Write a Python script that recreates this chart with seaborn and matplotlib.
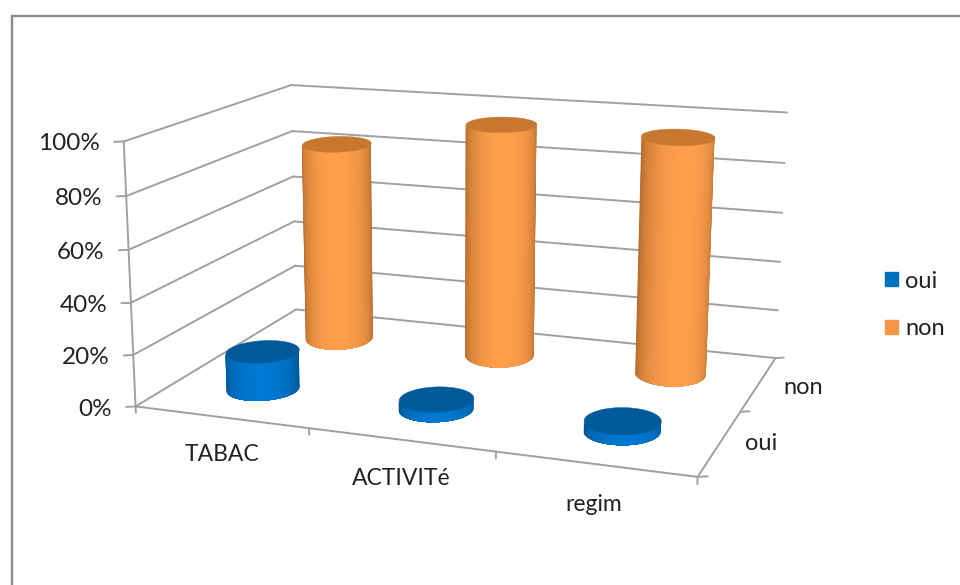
import numpy as np
import matplotlib
matplotlib.use("Agg")
import matplotlib.pyplot as plt
from matplotlib.colors import to_rgb
from matplotlib.lines import Line2D
from matplotlib.patches import Patch
from mpl_toolkits.mplot3d import proj3d
from mpl_toolkits.mplot3d.art3d import Poly3DCollection
import seaborn as sns

categories = ["TABAC", "ACTIVITé", "regim"]
series_names = ["oui", "non"]
oui_values = [0.15, 0.04, 0.04]
non_values = [0.825, 0.947, 0.94]
percent_ticks = [0.0, 0.2, 0.4, 0.6, 0.8, 1.0]

W, H = 960, 585
sns.set_theme(style="white")
plt.rcParams["font.family"] = ["Lato", "DejaVu Sans"]
TEXT = "#222222"
GRID = "#a0a0a0"

fig = plt.figure(figsize=(W / 100, H / 100), dpi=100, facecolor="white")
# mplot3d keeps a square panel, so it overhangs the figure top and bottom
ax = fig.add_axes([0, -(W - H) / 2 / H, 1, W / H], projection="3d", proj_type="ortho",
                  computed_zorder=False)
ax.set_xticks([])
ax.set_yticks([])
ax.set_zticks([])
ax.set_axis_off()
ax.viewLim.intervalx = (0, W)
ax.viewLim.intervaly = (-(W - H) / 2, H + (W - H) / 2)

# Camera: perspective matrix solved from where the plot box lands on the canvas
box_points = [
    ((0, 0, 0), (136, 406)), ((0, 0, 1), (124, 141)), ((0, 2, 1), (291, 85)),
    ((3, 2, 1), (787, 113)), ((3, 2, 0), (775, 358)), ((3, 0, 0), (697, 476)),
    ((1, 0, 0), (309, 429)), ((2, 0, 0), (495, 453)), ((3, 1, 0), (742, 411)),
]
rows = []
for (x, y, z), (px, py) in box_points:
    v = H - py
    rows.append([x, y, z, 1, 0, 0, 0, 0, -px * x, -px * y, -px * z, -px])
    rows.append([0, 0, 0, 0, x, y, z, 1, -v * x, -v * y, -v * z, -v])
solution = np.linalg.svd(np.array(rows, float))[2][-1].reshape(3, 4)
solution = solution / solution[2, 3]
camera = np.vstack([solution[0], solution[1], [0.1, 1.0, 0.05, 0.0], solution[2]])
ax.get_proj = lambda: camera

# Floor-plane steps worth about ten canvas pixels, horizontally and vertically
h_step = np.array([0.0425, 0.0235])
v_step = np.array([-0.083, 0.189])


def line(p, q, **kw):
    ax.plot([p[0], q[0]], [p[1], q[1]], [p[2], q[2]], color=GRID, lw=1.4, zorder=1, **kw)


def label(x, y, z, text, ha="center", size=17):
    """Place a flat figure text at the canvas position of a point in the plot box."""
    px, py, _ = proj3d.proj_transform(x, y, z, camera)
    fig.text(px / W, py / H, text, ha=ha, va="center", fontsize=size, color=TEXT)


# Walls, floor and axes
for z in percent_ticks:
    line((0, 0, z), (0, 2, z))
    line((0, 2, z), (3, 2, z))
    line((0, 0, z), (-h_step[0], -h_step[1], z))
    label(-2.5 * h_step[0], -2.5 * h_step[1], z - 0.006, f"{z:.0%}", ha="right", size=17.5)
line((0, 0, 0), (0, 0, 1))
line((0, 0, 0), (3, 0, 0))
line((3, 0, 0), (3, 2, 0))
for i in range(4):
    line((i, 0, 0), (i, 0, -0.025))
for j in range(3):
    line((3, j, 0), (3 + h_step[0], j + h_step[1], 0))
for i, name in enumerate(categories):
    label(i + 0.5, 0, -0.145, name, size=16.5)
for j, name in enumerate(series_names):
    shift = 4.4 + 0.8 * j
    label(3 + shift * h_step[0], j + 0.5 + shift * h_step[1], -0.012 * (1 + j), name)


def cylinder(cx, cy, height, edge, mid, top, half_w, half_h, levels=26, n=60):
    """Side painted as nested bands from the silhouette inward, then the top cap."""
    def ring(phi):
        return (cx + half_w * h_step[0] * np.cos(phi) + half_h * v_step[0] * np.sin(phi),
                cy + half_w * h_step[1] * np.cos(phi) + half_h * v_step[1] * np.sin(phi))

    edge_rgb, mid_rgb = np.array(to_rgb(edge)), np.array(to_rgb(mid))
    for k in range(levels):
        inset = k * (np.pi / 2) / levels
        arc = np.linspace(-np.pi + inset, -inset, n)
        tx, ty = ring(arc)
        band = list(zip(tx, ty, np.zeros(n))) + list(zip(tx[::-1], ty[::-1], np.full(n, height)))
        shade = edge_rgb + (mid_rgb - edge_rgb) * np.sin(inset) ** 0.9
        ax.add_collection3d(Poly3DCollection([band], facecolors=[shade], edgecolors="none",
                                             zorder=2 + k * 0.01))

    cap_x, cap_y = ring(np.linspace(-np.pi, np.pi, 2 * n))
    cap = Poly3DCollection([list(zip(cap_x, cap_y, np.full(2 * n, height)))], facecolors=top,
                           edgecolors=top, linewidths=0.3, zorder=3)
    ax.add_collection3d(cap)


for i, value in enumerate(non_values):
    cylinder(i + 0.5, 1.53, value, "#b26a2c", "#ff9f4c", "#c8772f", 4.1, 1.2)
for i, value in enumerate(oui_values):
    cylinder(i + 0.5, 0.5, value, "#00528f", "#0079d2", "#005a9a", 4.05, 1.0)

# Sheet border running off the right and bottom edges
border = dict(color="#8a8a8a", lw=1.7, transform=fig.transFigure)
fig.add_artist(Line2D([12 / W, 12 / W], [0, 1 - 16 / H], **border))
fig.add_artist(Line2D([12 / W, 1], [1 - 16 / H, 1 - 16 / H], **border))

handles = [Patch(color="#0070c0"), Patch(color="#f79646")]
fig.legend(handles, series_names, loc="center left", bbox_to_anchor=(885 / W, 1 - 305 / H),
           frameon=False, fontsize=17, handlelength=0.55, handleheight=0.55,
           handletextpad=0.3, labelspacing=1.13, borderpad=0, borderaxespad=0, labelcolor=TEXT)

fig.savefig("out.png", dpi=100)
